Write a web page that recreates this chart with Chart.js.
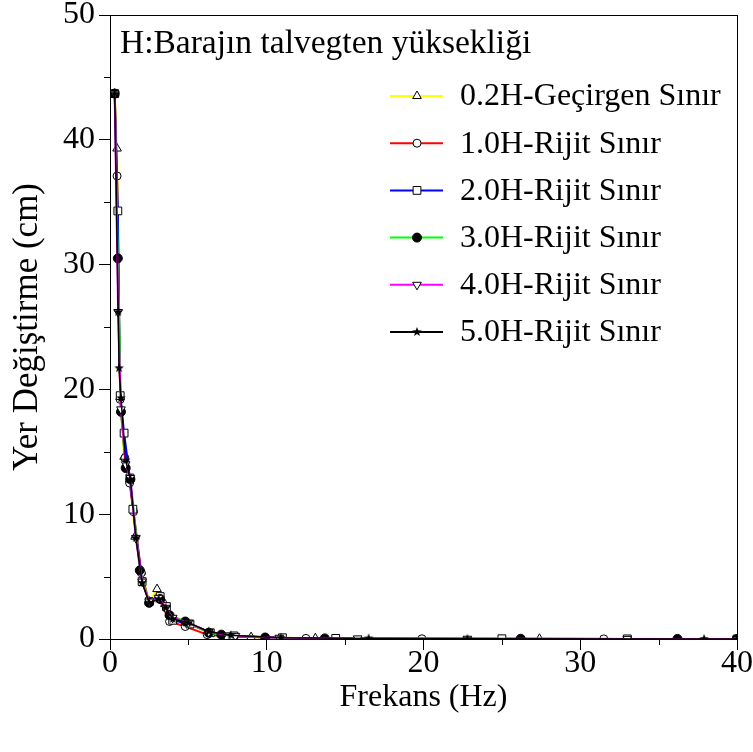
<!DOCTYPE html>
<html>
<head>
<meta charset="utf-8">
<script src="https://cdn.jsdelivr.net/npm/chart.js@4/dist/chart.umd.min.js"></script>
<style>
  html, body { margin: 0; padding: 0; background: #fff; }
  #wrap { width: 753px; height: 752px; }
</style>
</head>
<body>
<div id="wrap"><canvas id="c" width="753" height="752"></canvas></div>
<script>
// Displacement spectra (cm) against frequency (Hz) for each foundation depth / boundary case
const seriesNames = [
  '0.2H-Geçirgen Sınır',
  '1.0H-Rijit Sınır',
  '2.0H-Rijit Sınır',
  '3.0H-Rijit Sınır',
  '4.0H-Rijit Sınır',
  '5.0H-Rijit Sınır'
];

const freq02 = [0.3, 0.45, 0.65, 0.9, 1.27, 1.6, 2.0, 2.5, 3.0, 3.5, 4.0, 4.9, 6.3, 9.0, 13.1, 27.4, 40];
const disp02 = [43.7, 39.3, 19.4, 14.6, 12.8, 8.2, 5.4, 3.0, 4.0, 2.8, 1.6, 1.3, 0.5, 0.15, 0.06, 0.02, 0];

const freq10 = [0.3, 0.45, 0.65, 0.95, 1.25, 1.5, 2.0, 2.5, 3.1, 3.8, 4.8, 6.2, 7.5, 12.5, 19.9, 31.5, 40];
const disp10 = [43.7, 37.1, 19.2, 14.5, 12.5, 10.2, 5.3, 2.9, 3.3, 1.4, 1.0, 0.35, 0.2, 0.05, 0.02, 0.01, 0];

const freq20 = [0.3, 0.5, 0.65, 0.9, 1.27, 1.46, 2.05, 2.5, 3.2, 3.6, 4.0, 5.1, 6.4, 7.9, 11.0, 14.4, 25.0, 33.0, 40];
const disp20 = [43.7, 34.3, 19.5, 16.5, 12.9, 10.4, 4.6, 3.0, 3.4, 2.6, 1.5, 1.2, 0.5, 0.25, 0.1, 0.05, 0.02, 0.01, 0];

const freq30 = [0.3, 0.5, 0.7, 1.0, 1.3, 1.9, 2.5, 3.2, 3.8, 4.8, 6.3, 7.1, 9.9, 13.7, 26.2, 36.2, 40];
const disp30 = [43.7, 30.5, 18.2, 13.7, 12.8, 5.5, 2.9, 3.2, 1.9, 1.4, 0.5, 0.35, 0.12, 0.05, 0.02, 0.01, 0];

const freq40 = [0.3, 0.52, 0.7, 1.0, 1.3, 1.65, 2.05, 2.5, 3.1, 3.56, 4.0, 5.0, 6.3, 8.0, 10.8, 15.8, 22.8, 33.0, 40];
const disp40 = [43.7, 26.2, 18.4, 14.0, 12.9, 8.1, 4.6, 3.0, 3.3, 2.5, 1.7, 1.3, 0.55, 0.25, 0.1, 0.05, 0.02, 0.01, 0];

const freq50 = [0.3, 0.52, 0.58, 0.7, 1.0, 1.3, 1.65, 2.05, 2.5, 3.1, 3.56, 4.0, 5.0, 6.3, 7.7, 10.9, 16.5, 22.8, 37.9, 40];
const disp50 = [43.7, 26.2, 21.7, 19.3, 14.3, 12.8, 8.1, 4.5, 2.9, 3.2, 2.5, 1.6, 1.3, 0.6, 0.3, 0.1, 0.05, 0.02, 0.01, 0];

const xTickValues = [0, 10, 20, 30, 40];
const yTickValues = [0, 10, 20, 30, 40, 50];
const xMinorTicks = [5, 15, 25, 35];
const yMinorTicks = [5, 15, 25, 35, 45];

const headerText = 'H:Barajın talvegten yüksekliği';
const xTitle = 'Frekans (Hz)';
const yTitle = 'Yer Değiştirme (cm)';

const SERIF = '"Liberation Serif", "Times New Roman", serif';

// filled five-point star used as a marker
function makeStar(r) {
  const size = Math.ceil(r * 2 + 2);
  const cv = document.createElement('canvas');
  cv.width = size; cv.height = size;
  const g = cv.getContext('2d');
  const c = size / 2;
  g.beginPath();
  for (let i = 0; i < 10; i++) {
    const rad = i % 2 === 0 ? r : r * 0.42;
    const a = -Math.PI / 2 + i * Math.PI / 5;
    const px = c + rad * Math.cos(a), py = c + rad * Math.sin(a);
    if (i === 0) g.moveTo(px, py); else g.lineTo(px, py);
  }
  g.closePath();
  g.fillStyle = '#000';
  g.fill();
  return cv;
}
const starMarker = makeStar(5);

const pairs = (xs, ys) => xs.map((x, i) => ({ x: x, y: ys[i] }));

const styles = [
  { color: '#ffff00', pointStyle: 'triangle', radius: 5, rotation: 0, fill: '#ffffff', width: 2 },
  { color: '#ff0000', pointStyle: 'circle', radius: 4, rotation: 0, fill: '#ffffff', width: 2 },
  { color: '#0000ff', pointStyle: 'rect', radius: 5.5, rotation: 0, fill: '#ffffff', width: 2 },
  { color: '#00ff00', pointStyle: 'circle', radius: 4.5, rotation: 0, fill: '#000000', width: 2 },
  { color: '#ff00ff', pointStyle: 'triangle', radius: 5, rotation: 180, fill: '#ffffff', width: 2 },
  { color: '#000000', pointStyle: starMarker, radius: 5, rotation: 0, fill: '#000000', width: 1.5 }
];

const seriesData = [
  pairs(freq02, disp02), pairs(freq10, disp10), pairs(freq20, disp20),
  pairs(freq30, disp30), pairs(freq40, disp40), pairs(freq50, disp50)
];

const datasets = seriesData.map((d, i) => ({
  label: seriesNames[i],
  data: d,
  borderColor: styles[i].color,
  backgroundColor: styles[i].color,
  borderWidth: styles[i].width,
  tension: 0,
  pointStyle: styles[i].pointStyle,
  pointRadius: styles[i].radius,
  pointRotation: styles[i].rotation,
  pointBackgroundColor: styles[i].fill,
  pointBorderColor: '#000000',
  pointBorderWidth: 1,
  order: seriesData.length - 1 - i
}));

// frame, minor ticks, note and legend drawn over the plot
const decorations = {
  id: 'decorations',
  afterDraw(chart) {
    const ctx = chart.ctx;
    const area = chart.chartArea;
    const xs = chart.scales.x, ys = chart.scales.y;
    ctx.save();
    ctx.strokeStyle = '#000';
    ctx.lineWidth = 1;
    ctx.strokeRect(Math.round(area.left) + 0.5, Math.round(area.top) + 0.5,
      Math.round(area.right - area.left), Math.round(area.bottom - area.top));

    ctx.beginPath();
    xMinorTicks.forEach(v => {
      const px = Math.round(xs.getPixelForValue(v)) + 0.5;
      ctx.moveTo(px, area.bottom); ctx.lineTo(px, area.bottom + 6);
    });
    yMinorTicks.forEach(v => {
      const py = Math.round(ys.getPixelForValue(v)) + 0.5;
      ctx.moveTo(area.left, py); ctx.lineTo(area.left - 6, py);
    });
    ctx.stroke();

    ctx.fillStyle = '#000';
    ctx.font = '33.5px ' + SERIF;
    ctx.textAlign = 'left';
    ctx.textBaseline = 'middle';
    ctx.fillText(headerText, area.left + 10, area.top + 29);

    const lx0 = area.left + 280, lx1 = area.left + 333, lmx = area.left + 307;
    const ltx = area.left + 350;
    ctx.font = '32px ' + SERIF;
    chart.data.datasets.forEach((ds, i) => {
      const y = area.top + 81 + i * 47.2;
      ctx.strokeStyle = ds.borderColor;
      ctx.lineWidth = 2;
      ctx.beginPath();
      ctx.moveTo(lx0, y); ctx.lineTo(lx1, y);
      ctx.stroke();
      ctx.strokeStyle = '#000';
      ctx.fillStyle = ds.pointBackgroundColor;
      ctx.lineWidth = 1;
      Chart.helpers.drawPoint(ctx, {
        pointStyle: ds.pointStyle,
        radius: ds.pointRadius,
        rotation: ds.pointRotation,
        borderWidth: 1
      }, lmx, y);
      ctx.fillStyle = '#000';
      ctx.fillText(ds.label, ltx, y + 1);
    });
    ctx.restore();
  }
};

new Chart(document.getElementById('c'), {
  type: 'line',
  data: { datasets: datasets },
  plugins: [decorations],
  options: {
    responsive: false,
    animation: false,
    devicePixelRatio: 1,
    layout: { padding: { top: 15, right: 16, left: 0, bottom: 0 } },
    plugins: { legend: { display: false }, tooltip: { enabled: false } },
    events: [],
    scales: {
      x: {
        type: 'linear',
        min: 0, max: 40,
        afterFit(scale) { scale.height = 113; scale.paddingLeft = 0; scale.paddingRight = 0; },
        afterBuildTicks(scale) { scale.ticks = xTickValues.map(v => ({ value: v })); },
        ticks: { color: '#000', font: { family: SERIF, size: 32 }, padding: -6, maxRotation: 0 },
        grid: { drawOnChartArea: false, tickLength: 11, color: '#000', tickColor: '#000' },
        border: { color: '#000', width: 1 },
        title: { display: true, text: xTitle, color: '#000', font: { family: SERIF, size: 32 }, padding: { top: 0, bottom: 35 } }
      },
      y: {
        type: 'linear',
        min: 0, max: 50,
        afterFit(scale) { scale.width = 110; scale.paddingTop = 0; scale.paddingBottom = 0; },
        afterBuildTicks(scale) { scale.ticks = yTickValues.map(v => ({ value: v })); },
        ticks: { color: '#000', font: { family: SERIF, size: 32 }, padding: 4 },
        grid: { drawOnChartArea: false, tickLength: 11, color: '#000', tickColor: '#000' },
        border: { color: '#000', width: 1 },
        title: { display: true, text: yTitle, color: '#000', font: { family: SERIF, size: 35 }, padding: { top: 7, bottom: 0 } }
      }
    }
  }
});
</script>
</body>
</html>
